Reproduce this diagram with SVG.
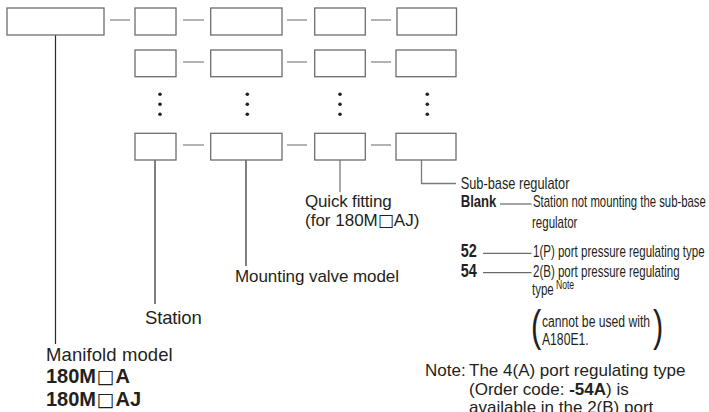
<svg xmlns="http://www.w3.org/2000/svg" width="709" height="412" viewBox="0 0 709 412">
<style>
.bx{fill:#fff;stroke:#6e6e6e;stroke-width:1.3}
.ds{stroke:#8a8a8a;stroke-width:1.3;fill:none}
.ln{stroke:#2a2a2a;stroke-width:1.2;fill:none}
.lg{stroke:#7a7a7a;stroke-width:1.3;fill:none}
.lt{stroke:#333;stroke-width:0.9;fill:none}
.dot{fill:#222}
text{font-family:"Liberation Sans",Arial,sans-serif;fill:#231f20}
.t{font-size:17px}
.tb{font-size:20px;font-weight:bold}
.c{font-size:16px}
.cb{font-size:16px;font-weight:bold}
.sq{font-family:"DejaVu Sans",sans-serif;font-weight:normal}
</style>
<g id="connectors">
<line class="ds" x1="110" y1="20" x2="130" y2="20"/>
<line class="ds" x1="183" y1="20" x2="204" y2="20"/>
<line class="ds" x1="287" y1="20" x2="307" y2="20"/>
<line class="ds" x1="371" y1="20" x2="391" y2="20"/>
<line class="ds" x1="183" y1="62" x2="204" y2="62"/>
<line class="ds" x1="287" y1="62" x2="307" y2="62"/>
<line class="ds" x1="371" y1="62" x2="391" y2="62"/>
<line class="ds" x1="183" y1="145" x2="204" y2="145"/>
<line class="ds" x1="287" y1="145" x2="307" y2="145"/>
<line class="ds" x1="371" y1="145" x2="391" y2="145"/>
<line class="ln" x1="55.5" y1="35" x2="55.5" y2="344"/>
<line class="ln" x1="155" y1="160" x2="155" y2="304"/>
<line class="ln" x1="246" y1="160" x2="246" y2="266"/>
<line class="lg" x1="340" y1="160" x2="340" y2="192"/>
<polyline class="lg" points="421.5,160 421.5,183.5 456,183.5"/>
<line class="lt" x1="500" y1="204" x2="531.5" y2="204"/>
<line class="lt" x1="483" y1="253.3" x2="531.5" y2="253.3"/>
<line class="lt" x1="483" y1="272.7" x2="531.5" y2="272.7"/>
</g>
<g id="manifold"><rect class="bx" x="7" y="8" width="97" height="27"/></g>
<g id="row1">
<rect class="bx" x="135" y="8" width="41" height="27"/>
<rect class="bx" x="210.7" y="8" width="71.3" height="27"/>
<rect class="bx" x="314.7" y="8" width="50.6" height="27"/>
<rect class="bx" x="397" y="8" width="59.5" height="27"/>
</g>
<g id="row2">
<rect class="bx" x="135" y="50" width="41" height="26.7"/>
<rect class="bx" x="210.7" y="50" width="71.3" height="26.7"/>
<rect class="bx" x="314.7" y="50" width="50.6" height="26.7"/>
<rect class="bx" x="396" y="50" width="60" height="26.7"/>
</g>
<g id="dots">
<circle class="dot" cx="160" cy="94.3" r="1.8"/><circle class="dot" cx="160" cy="104.3" r="1.8"/><circle class="dot" cx="160" cy="114.3" r="1.8"/>
<circle class="dot" cx="247.3" cy="94.3" r="1.8"/><circle class="dot" cx="247.3" cy="104.3" r="1.8"/><circle class="dot" cx="247.3" cy="114.3" r="1.8"/>
<circle class="dot" cx="340" cy="94.3" r="1.8"/><circle class="dot" cx="340" cy="104.3" r="1.8"/><circle class="dot" cx="340" cy="114.3" r="1.8"/>
<circle class="dot" cx="427.3" cy="94.3" r="1.8"/><circle class="dot" cx="427.3" cy="104.3" r="1.8"/><circle class="dot" cx="427.3" cy="114.3" r="1.8"/>
</g>
<g id="row3">
<rect class="bx" x="135" y="133.3" width="41" height="26.7"/>
<rect class="bx" x="210.7" y="133.3" width="71.3" height="26.7"/>
<rect class="bx" x="314.7" y="133.3" width="50.6" height="26.7"/>
<rect class="bx" x="396" y="133.3" width="60" height="26.7"/>
</g>
<g id="label-quick">
<text class="t" x="305" y="207.3" textLength="86.7">Quick fitting</text>
<text class="t" x="305" y="225.7">(for 180M<tspan class="sq">□</tspan>AJ)</text>
</g>
<g id="label-valve"><text class="t" x="235" y="282.3" textLength="164">Mounting valve model</text></g>
<g id="label-station"><text class="t" x="145" y="324.3" style="font-size:18.5px" textLength="56.7">Station</text></g>
<g id="label-manifold">
<text class="t" x="46" y="361" style="font-size:18.5px" textLength="126.7">Manifold model</text>
<text class="tb" x="46" y="383.3">180M<tspan class="sq" style="font-size:19px" dx="0.5">□</tspan><tspan dx="1">A</tspan></text>
<text class="tb" x="46" y="405.7">180M<tspan class="sq" style="font-size:19px" dx="0.5">□</tspan><tspan dx="1">AJ</tspan></text>
</g>
<g id="label-subbase">
<text class="c" transform="translate(460.7 189.3) scale(0.8 1)">Sub-base regulator</text>
<text class="cb" transform="translate(460.7 207.3) scale(0.82 1)">Blank</text>
<text class="c" transform="translate(533 207.3) scale(0.71 1)">Station not mounting the sub-base</text>
<text class="c" transform="translate(532 228) scale(0.72 1)">regulator</text>
<text class="cb" transform="translate(460.7 256.7) scale(0.8 1)" style="font-size:18px">52</text>
<text class="c" transform="translate(533 256.7) scale(0.72 1)">1(P) port pressure regulating type</text>
<text class="cb" transform="translate(460.7 276.7) scale(0.8 1)" style="font-size:18px">54</text>
<text class="c" transform="translate(533 276.7) scale(0.72 1)">2(B) port pressure regulating</text>
<text class="c" transform="translate(532 295) scale(0.72 1)">type<tspan dx="3" dy="-6" style="font-size:12px">Note</tspan></text>
<text class="c" transform="translate(531 341) scale(0.7 1)" style="font-size:44px">(</text>
<text class="c" transform="translate(542 327) scale(0.76 1)">cannot be used with</text>
<text class="c" transform="translate(542 345) scale(0.76 1)">A180E1.</text>
<text class="c" transform="translate(653 341) scale(0.7 1)" style="font-size:44px">)</text>
</g>
<g id="note">
<text class="t" x="425" y="376">Note:</text>
<text class="t" x="469" y="376">The 4(A) port regulating type</text>
<text class="t" x="469" y="394.5">(Order code: <tspan font-weight="bold">-54A</tspan>) is</text>
<text class="t" x="469" y="413">available in the 2(B) port</text>
</g>
</svg>
